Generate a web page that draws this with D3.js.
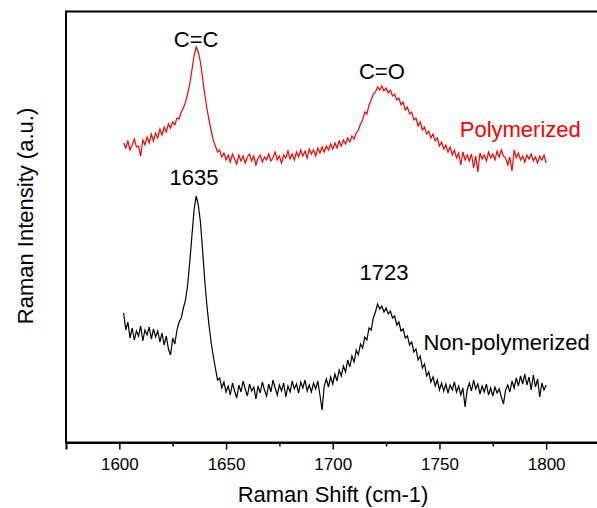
<!DOCTYPE html>
<html>
<head>
<meta charset="utf-8">
<script src="https://cdn.jsdelivr.net/npm/d3@7"></script>
<style>
  html, body { margin: 0; padding: 0; background: #fff; }
  svg { display: block; font-family: "Liberation Sans", Arial, sans-serif; }
</style>
</head>
<body>
<svg id="chart" width="597" height="508"></svg>
<script>
// ---- data (Raman shift in cm-1, intensity in arbitrary units) ----
const shiftStart = 1602;
const polymerized = [
  299,294,301,292,297,303,295,296,286,302,297,305,299,308,301,309,304,313,307,315,
  310,318,314,320,317,324,323,330,334,340,348,358,372,386,395,390,380,364,348,334,
  322,312,302,296,290,292,285,289,282,287,280,288,283,278,287,281,286,279,285,288,
  281,286,277,284,287,280,285,282,288,281,284,290,282,286,279,287,284,291,283,288,
  282,290,285,292,286,291,284,293,288,292,286,294,289,295,290,296,292,298,293,299,
  294,301,296,302,298,304,300,306,303,309,312,318,322,330,328,337,342,348,350,355,
  352,356,351,354,349,352,346,348,342,344,337,340,332,335,328,330,322,324,316,320,
  312,315,308,311,304,308,301,304,296,300,293,297,290,295,287,292,284,289,277,290,
  282,287,281,288,274,286,270,289,283,287,281,290,284,288,282,291,285,292,286,284,
  277,285,271,292,284,289,282,286,280,287,283,288,281,285,279,286,282,287,279
];
const nonPolymerized = [
  129,112,120,104,114,102,111,106,116,101,112,107,115,103,113,105,111,100,109,97,
  106,93,87,104,98,112,120,124,134,142,157,180,206,232,246,237,220,192,162,137,
  117,100,86,74,62,64,54,60,50,56,47,59,51,44,57,50,61,53,46,58,
  51,55,43,56,49,60,52,46,58,50,62,54,47,57,51,59,45,56,50,61,
  53,58,49,60,54,62,51,57,50,59,53,61,47,32,56,63,55,65,58,68,
  61,72,66,76,70,82,75,86,80,92,87,98,94,105,102,114,112,124,130,138,
  133,136,130,134,128,131,124,126,117,120,111,113,104,106,97,100,90,93,82,86,
  74,78,66,70,60,65,56,62,52,59,51,58,49,57,52,60,50,56,47,54,
  35,52,59,51,62,53,58,48,56,50,58,47,54,46,55,49,53,45,38,52,
  57,50,61,54,64,56,66,58,68,57,65,52,67,55,63,45,59,52,57
];
const xTicks = [1600, 1650, 1700, 1750, 1800];
const xMinorTicks = [1625, 1675, 1725, 1775];
const annotations = [
  { text: "C=C", x: 1636, v: 395 },
  { text: "C=O", x: 1723, v: 363 },
  { text: "1635", x: 1635, v: 257 },
  { text: "1723", x: 1724, v: 162 }
];
const seriesLabels = [
  { text: "Polymerized", x: 1759.5, v: 305, color: "#ff0000" },
  { text: "Non-polymerized", x: 1742.5, v: 92, color: "#000000" }
];

// ---- layout ----
const svg = d3.select("#chart");
const mLeft = 66, mRight = 599.5, mTop = 11.5, mBottom = 442.5;

const x = d3.scaleLinear().domain([1575, 1825]).range([mLeft, mRight]);
const y = d3.scaleLinear().domain([-0.5, 430.5]).range([mBottom, mTop]);

const toPoints = arr => arr.map((v, i) => ({ s: shiftStart + i, v }));
const line = d3.line().x(d => x(d.s)).y(d => y(d.v));

// frame
svg.append("rect")
  .attr("x", mLeft).attr("y", mTop)
  .attr("width", mRight - mLeft).attr("height", mBottom - mTop)
  .attr("fill", "none").attr("stroke", "#000").attr("stroke-width", 2);

// x axis
const xAxis = d3.axisBottom(x).tickValues(xTicks).tickSize(7).tickPadding(8).tickFormat(d3.format("d"));
const gx = svg.append("g").attr("transform", `translate(0,${mBottom})`).call(xAxis);
gx.select(".domain").attr("stroke-width", 2);
gx.selectAll(".tick line").attr("stroke-width", 1.5);
gx.selectAll(".tick text").attr("font-size", 17).attr("fill", "#000")
  .attr("font-family", "Liberation Sans, Arial, sans-serif");
const gxm = svg.append("g").attr("transform", `translate(0,${mBottom})`)
  .call(d3.axisBottom(x).tickValues(xMinorTicks).tickSize(4).tickFormat(""));
gxm.select(".domain").remove();
gxm.selectAll(".tick line").attr("stroke-width", 1.5);

// series
svg.append("path").datum(toPoints(polymerized))
  .attr("d", line).attr("fill", "none").attr("stroke", "#ff0000").attr("stroke-width", 1.2);
svg.append("path").datum(toPoints(nonPolymerized))
  .attr("d", line).attr("fill", "none").attr("stroke", "#000000").attr("stroke-width", 1.2);

// annotations
svg.selectAll("text.ann").data(annotations).enter().append("text")
  .attr("class", "ann")
  .attr("x", d => x(d.x)).attr("y", d => y(d.v))
  .attr("text-anchor", "middle").attr("font-size", 22).attr("fill", "#000")
  .text(d => d.text);

svg.selectAll("text.lab").data(seriesLabels).enter().append("text")
  .attr("class", "lab")
  .attr("x", d => x(d.x)).attr("y", d => y(d.v))
  .attr("font-size", 22).attr("fill", d => d.color)
  .text(d => d.text);

// axis titles
svg.append("text")
  .attr("x", 333).attr("y", 502)
  .attr("text-anchor", "middle").attr("font-size", 22).attr("fill", "#000")
  .text("Raman Shift (cm-1)");
svg.append("text")
  .attr("transform", "translate(33,216) rotate(-90)")
  .attr("text-anchor", "middle").attr("font-size", 22).attr("fill", "#000")
  .text("Raman Intensity (a.u.)");
</script>
</body>
</html>
